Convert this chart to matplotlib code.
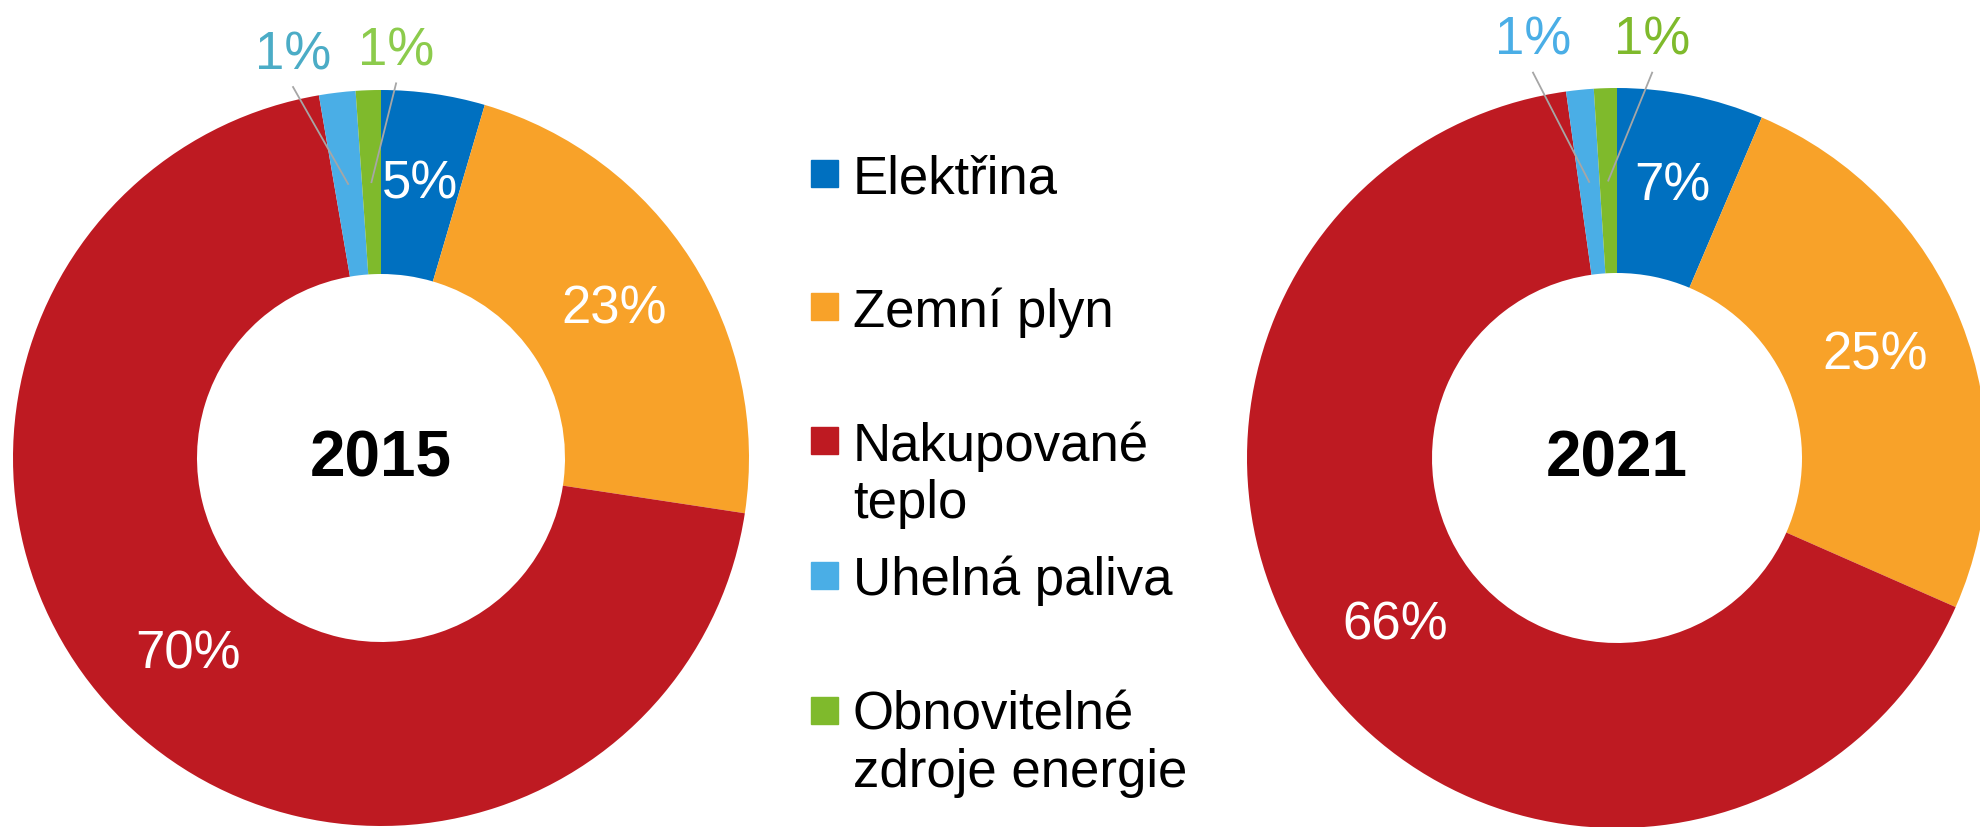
import matplotlib.pyplot as plt
import numpy as np

# data (shares in %)
categories = ['Elektřina', 'Zemní plyn', 'Nakupované\nteplo', 'Uhelná paliva',
              'Obnovitelné\nzdroje energie']
vals_2015 = [4.55, 22.85, 69.9, 1.6, 1.1]
vals_2021 = [6.4, 25.2, 66.2, 1.2, 1.0]
labels_2015 = ['5%', '23%', '70%', '1%', '1%']
labels_2021 = ['7%', '25%', '66%', '1%', '1%']
years = ['2015', '2021']

colors = ['#0070C0', '#F8A229', '#BE1A22', '#4AAEE6', '#7FBA2C']
small_colors = {'2015': ['#4BACC6', '#8CCB4C'], '2021': ['#4AAEE6', '#7FBA2C']}

plt.rcParams['font.family'] = ['Liberation Sans', 'DejaVu Sans']

W, H = 1981, 827
fig = plt.figure(figsize=(W / 100, H / 100), dpi=100)
ax = fig.add_axes([0, 0, 1, 1])

# donut geometry in pixels
donuts = [
    dict(vals=vals_2015, labels=labels_2015, year='2015', cx=381, cy=H - 458, r=368,
         small_pos=[(-0.239, 1.095), (0.041, 1.105)]),
    dict(vals=vals_2021, labels=labels_2021, year='2021', cx=1617, cy=H - 458, r=370,
         small_pos=[(-0.227, 1.128), (0.095, 1.128)]),
]

for d in donuts:
    R = d['r']
    wedges, _ = ax.pie(d['vals'], colors=colors, startangle=90, counterclock=False,
                       radius=R, center=(d['cx'], d['cy']), frame=False,
                       wedgeprops=dict(width=R * 0.5, edgecolor='none'))
    for i, w in enumerate(wedges):
        ang = np.deg2rad((w.theta1 + w.theta2) / 2)
        px = d['cx'] + 0.75 * R * np.cos(ang)
        py = d['cy'] + 0.75 * R * np.sin(ang)
        if i < 3:
            ax.text(px, py, d['labels'][i], color='white', fontsize=38,
                    ha='center', va='center')
        else:
            tx, ty = d['small_pos'][i - 3]
            tx = d['cx'] + tx * R
            ty = d['cy'] + ty * R
            ax.text(tx, ty, d['labels'][i], color=small_colors[d['year']][i - 3],
                    fontsize=38, ha='center', va='center')
            ax.plot([tx, px], [ty - 32, py], color='#A6A6A6', lw=1.3)
    ax.text(d['cx'], d['cy'] - 19, d['year'], fontsize=46, fontweight='bold',
            ha='center', va='baseline', color='black')

# legend drawn by hand
leg_y = [H - 173, H - 307, H - 441, H - 575, H - 710]
for c, lab, y in zip(colors, categories, leg_y):
    ax.add_patch(plt.Rectangle((811, y - 13.5), 27, 27, color=c))
    ax.text(853, y + 19, lab, fontsize=38, ha='left', va='top', linespacing=1.17,
            color='black')

ax.set_xlim(0, W)
ax.set_ylim(0, H)
ax.set_aspect('equal')
ax.axis('off')

fig.savefig('out.png', dpi=100)
